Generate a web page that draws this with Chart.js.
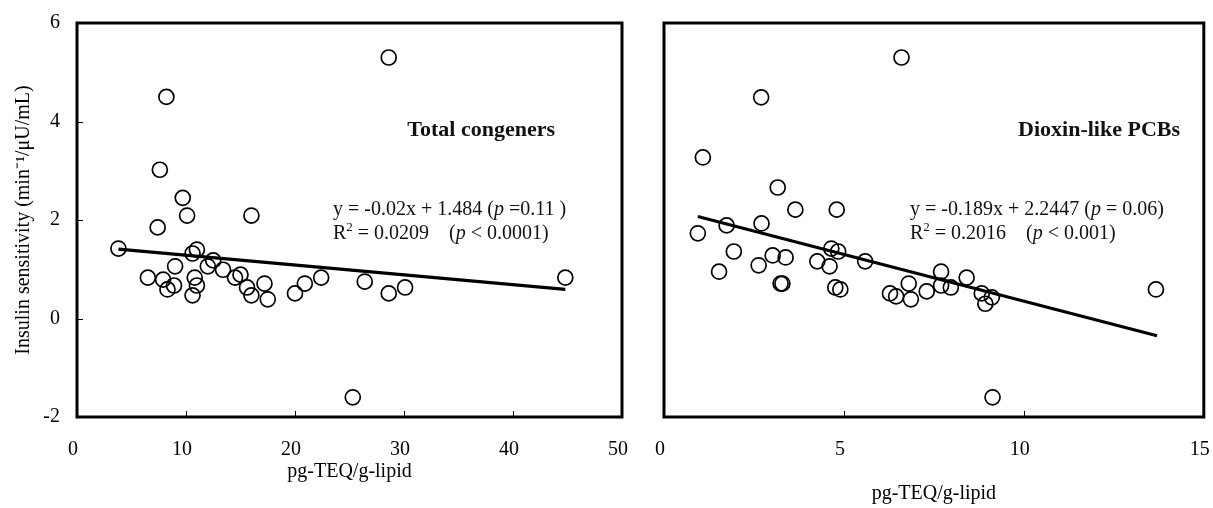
<!DOCTYPE html>
<html>
<head>
<meta charset="utf-8">
<script src="https://cdn.jsdelivr.net/npm/chart.js@4.4.1/dist/chart.umd.min.js"></script>
<style>
  body { margin: 0; background: #fff; width: 1213px; height: 508px; overflow: hidden; position: relative; }
  .box { position: absolute; top: 0; height: 508px; }
</style>
</head>
<body>
<div class="box" style="left:0;width:640px"><canvas id="leftChart" width="640" height="508"></canvas></div>
<div class="box" style="left:640px;width:573px"><canvas id="rightChart" width="573" height="508"></canvas></div>
<script>
// values
const totalX = [8.2, 7.6, 9.7, 10.1, 16.0, 7.4, 3.8, 10.6, 11.0, 9.0, 12.0, 12.5, 13.4, 6.5, 7.9, 8.3, 8.9, 10.8,
  11.0, 10.6, 14.5, 15.0, 15.6, 16.0, 17.2, 17.5, 20.0, 20.9, 22.4, 26.4, 28.6, 30.1, 44.8, 25.3, 28.6];
const totalY = [4.5, 3.02, 2.45, 2.09, 2.09, 1.85, 1.42, 1.32, 1.40, 1.06, 1.06, 1.18, 0.99, 0.83, 0.79, 0.59, 0.67, 0.83,
  0.67, 0.47, 0.83, 0.89, 0.63, 0.47, 0.71, 0.39, 0.51, 0.71, 0.83, 0.75, 0.51, 0.63, 0.83, -1.6, 5.3];

const dioxinX = [6.6, 2.7, 1.08, 3.16, 3.65, 4.8, 1.74, 2.71, 0.94, 1.94, 1.53, 2.63, 3.02, 3.38, 3.29, 3.24, 4.65, 4.84,
  4.26, 4.6, 5.59, 4.76, 4.9, 6.28, 6.45, 6.8, 6.86, 7.3, 7.7, 7.7, 7.97, 8.41, 8.83, 8.93, 9.11, 13.67, 9.13];
const dioxinY = [5.3, 4.49, 3.27, 2.66, 2.21, 2.21, 1.89, 1.93, 1.73, 1.36, 0.95, 1.08, 1.28, 1.24, 0.71, 0.71, 1.42, 1.36,
  1.16, 1.06, 1.16, 0.63, 0.59, 0.51, 0.45, 0.71, 0.39, 0.55, 0.95, 0.67, 0.63, 0.83, 0.51, 0.30, 0.43, 0.59, -1.6];

// fitted line ends, as drawn
const totalFitX = [3.8, 44.8];
const totalFitY = [1.41, 0.59];
const dioxinFitX = [0.94, 13.7];
const dioxinFitY = [2.07, -0.35];

const yTicks = [-2, 0, 2, 4, 6];
const totalXTicks = [0, 10, 20, 30, 40, 50];
const dioxinXTicks = [0, 5, 10, 15];

const SERIF = "'Liberation Serif', 'Times New Roman', serif";

function zip(xs, ys) {
  return xs.map((x, i) => ({ x: x, y: ys[i] }));
}

// box round the plot and inward tick marks
const framePlugin = {
  id: 'frame',
  afterDatasetsDraw(chart) {
    const { ctx, chartArea: a, scales } = chart;
    ctx.save();
    ctx.strokeStyle = '#000';
    ctx.lineWidth = 1;
    scales.x.ticks.forEach(t => {
      if (t.value === scales.x.min || t.value === scales.x.max) return;
      const px = Math.round(scales.x.getPixelForValue(t.value)) + 0.5;
      ctx.beginPath();
      ctx.moveTo(px, a.bottom);
      ctx.lineTo(px, a.bottom - 6);
      ctx.stroke();
    });
    if (chart.options.scales.y.display) {
      scales.y.ticks.forEach(t => {
        if (t.value === scales.y.min || t.value === scales.y.max) return;
        const py = Math.round(scales.y.getPixelForValue(t.value)) + 0.5;
        ctx.beginPath();
        ctx.moveTo(a.left, py);
        ctx.lineTo(a.left + 6, py);
        ctx.stroke();
      });
    }
    ctx.lineWidth = 3;
    ctx.strokeRect(a.left, a.top, a.right - a.left, a.bottom - a.top);
    ctx.restore();
  }
};

// text runs: mixed upright / italic / superscript
const notesPlugin = {
  id: 'notes',
  afterDraw(chart, args, opts) {
    const ctx = chart.ctx;
    ctx.save();
    ctx.textBaseline = 'middle';
    ctx.fillStyle = '#111';
    (opts.items || []).forEach(item => {
      let w = 0;
      item.runs.forEach(r => {
        ctx.font = r[1];
        w += ctx.measureText(r[0]).width;
      });
      let x = item.align === 'right' ? item.x - w : item.x;
      item.runs.forEach(r => {
        ctx.font = r[1];
        ctx.textAlign = 'left';
        ctx.fillText(r[0], x, item.y + (r[2] || 0));
        x += ctx.measureText(r[0]).width;
      });
    });
    ctx.restore();
  }
};

function makeChart(id, cfg) {
  const tickFont = { family: SERIF, size: 20 };
  return new Chart(document.getElementById(id), {
    type: 'scatter',
    data: {
      datasets: [
        {
          data: zip(cfg.fitX, cfg.fitY),
          showLine: true,
          borderColor: '#000',
          borderWidth: 3.2,
          pointRadius: 0
        },
        {
          data: zip(cfg.xs, cfg.ys),
          pointRadius: 7.5,
          pointBorderWidth: 1.7,
          pointBorderColor: '#000',
          pointBackgroundColor: 'rgba(255,255,255,0)'
        }
      ]
    },
    options: {
      responsive: false,
      animation: false,
      events: [],
      layout: { padding: cfg.padding },
      plugins: {
        legend: { display: false },
        tooltip: { enabled: false },
        notes: { items: cfg.notes }
      },
      scales: {
        x: {
          type: 'linear',
          min: cfg.xTicks[0],
          max: cfg.xTicks[cfg.xTicks.length - 1],
          afterBuildTicks: s => { s.ticks = cfg.xTicks.map(v => ({ value: v })); },
          afterFit: s => { s.height = 91; s.paddingLeft = 0; s.paddingRight = 0; },
          grid: { display: false, drawTicks: false },
          border: { display: false },
          ticks: { font: tickFont, color: '#000', padding: 21, labelOffset: -4, maxRotation: 0, autoSkip: false },
          title: {
            display: true,
            text: 'pg-TEQ/g-lipid',
            color: '#000',
            font: { family: SERIF, size: 20 },
            padding: { top: 0, bottom: cfg.titlePad }
          }
        },
        y: {
          display: cfg.showY,
          min: yTicks[0],
          max: yTicks[yTicks.length - 1],
          afterBuildTicks: s => { s.ticks = yTicks.map(v => ({ value: v })); },
          afterFit: s => { s.width = cfg.yWidth; s.paddingTop = 0; s.paddingBottom = 0; },
          grid: { display: false, drawTicks: false },
          border: { display: false },
          ticks: { font: tickFont, color: '#000', padding: 17 },
          title: {
            display: true,
            text: 'Insulin sensitivity (min\u207B\u00B9/\u03BCU/mL)',
            color: '#000',
            font: { family: SERIF, size: 20 },
            padding: { top: 12, bottom: 0 }
          }
        }
      }
    },
    plugins: [framePlugin, notesPlugin]
  });
}

const REG = '20px ' + SERIF;
const ITA = 'italic 20px ' + SERIF;
const SUP = '13px ' + SERIF;
const BOLD = 'bold 22px ' + SERIF;

makeChart('leftChart', {
  xs: totalX, ys: totalY, fitX: totalFitX, fitY: totalFitY,
  xTicks: totalXTicks, showY: true, yWidth: 77, titlePad: 24,
  padding: { top: 23, right: 18, left: 0, bottom: 0 },
  notes: [
    { x: 555, y: 130, align: 'right', runs: [['Total congeners', BOLD]] },
    { x: 333, y: 210, runs: [['y = -0.02x + 1.484 (', REG], ['p', ITA], [' =0.11 )', REG]] },
    { x: 333, y: 234, runs: [['R', REG], ['2', SUP, -6], [' = 0.0209    (', REG], ['p', ITA], [' < 0.0001)', REG]] }
  ]
});

makeChart('rightChart', {
  xs: dioxinX, ys: dioxinY, fitX: dioxinFitX, fitY: dioxinFitY,
  xTicks: dioxinXTicks, showY: false, yWidth: 24, titlePad: 2,
  padding: { top: 23, right: 7, left: 0, bottom: 0 },
  notes: [
    { x: 540, y: 130, align: 'right', runs: [['Dioxin-like PCBs', BOLD]] },
    { x: 270, y: 210, runs: [['y = -0.189x + 2.2447 (', REG], ['p', ITA], [' = 0.06)', REG]] },
    { x: 270, y: 234, runs: [['R', REG], ['2', SUP, -6], [' = 0.2016    (', REG], ['p', ITA], [' < 0.001)', REG]] }
  ]
});
</script>
</body>
</html>
